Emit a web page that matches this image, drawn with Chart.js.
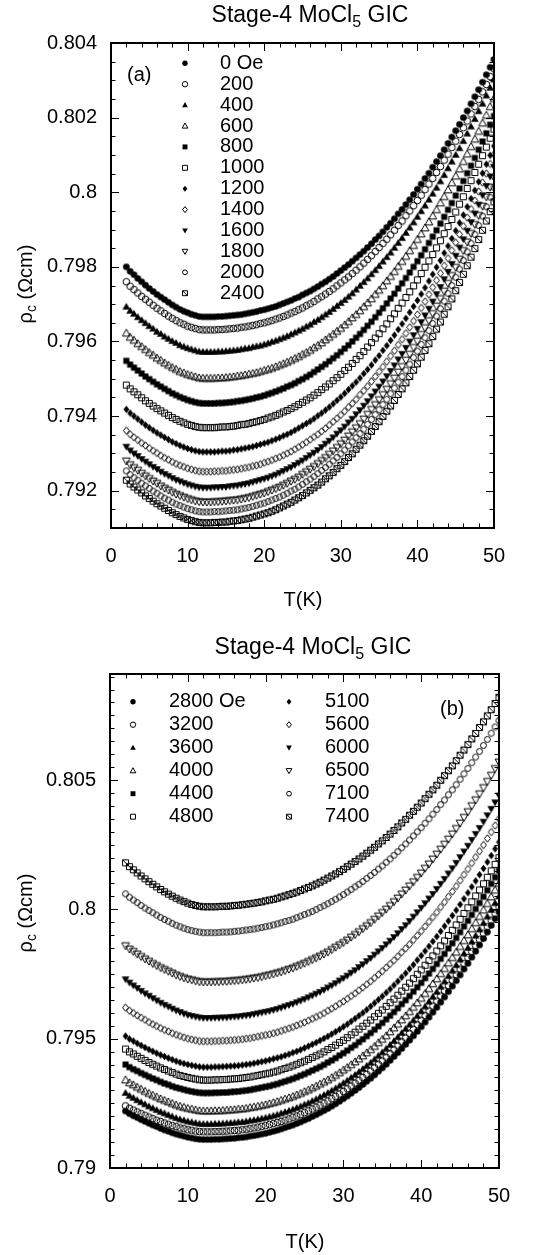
<!DOCTYPE html>
<html><head><meta charset="utf-8">
<script src="https://cdn.jsdelivr.net/npm/chart.js@4.4.1/dist/chart.umd.min.js"></script>
<style>
html,body{margin:0;padding:0;background:#fff;}
#wrap{position:relative;width:541px;height:1255px;overflow:hidden;}
canvas{position:absolute;left:0;}
#ca{top:0;} #cb{top:625px;}
</style></head><body>
<div id="wrap"><canvas id="ca" width="541" height="625"></canvas><canvas id="cb" width="541" height="630"></canvas></div>
<script>
// ---------- data ----------
const temps = [2,2.5,3,3.5,4,4.5,5,5.5,6,6.5,7,7.5,8,8.5,9,9.5,10,10.5,11,11.5,12,12.5,13,13.5,14,14.5,15,15.5,16,16.5,17,17.5,18,18.5,19,19.5,20,20.5,21,21.5,22,22.5,23,23.5,24,24.5,25,25.5,26,26.5,27,27.5,28,28.5,29,29.5,30,30.5,31,31.5,32,32.5,33,33.5,34,34.5,35,35.5,36,36.5,37,37.5,38,38.5,39,39.5,40,40.5,41,41.5,42,42.5,43,43.5,44,44.5,45,45.5,46,46.5,47,47.5,48,48.5,49,49.5,50];

const xTicks = [0,10,20,30,40,50];
const yTicksA = [0.792,0.794,0.796,0.798,0.800,0.802,0.804];
const yTicksB = [0.790,0.795,0.800,0.805];

const legendA = ['0 Oe','200','400','600','800','1000','1200','1400','1600','1800','2000','2400'];
const legendB = ['2800 Oe','3200','3600','4000','4400','4800','5100','5600','6000','6500','7100','7400'];

// panel (a): rho_c (Ohm cm) vs T, H = 0 ... 2400 Oe
const rhoA0 = [0.79800,0.79788,0.79779,0.79769,0.79760,0.79751,0.79742,0.79734,0.79726,0.79719,0.79712,0.79705,0.79698,0.79692,0.79686,0.79681,0.79677,0.79673,0.79670,0.79667,0.79666,
0.79666,0.79666,0.79666,0.79667,0.79667,0.79668,0.79669,0.79670,0.79671,0.79672,0.79674,0.79676,0.79678,0.79680,0.79683,0.79685,0.79688,0.79691,0.79694,0.79698,0.79702,0.79706,0.79710,0.79715,0.79719,0.79725,0.79730,0.79735,0.79741,0.79747,0.79754,0.79760,0.79767,0.79774,0.79782,0.79790,0.79798,0.79806,0.79815,0.79824,0.79833,0.79842,0.79852,0.79862,0.79873,0.79883,0.79894,0.79906,0.79917,0.79929,0.79942,0.79954,0.79967,0.79980,0.79994,0.80008,0.80022,0.80037,0.80051,0.80067,0.80082,0.80098,0.80114,0.80131,0.80148,0.80165,0.80182,0.80200,0.80218,0.80237,0.80256,0.80275,0.80295,0.80315,0.80335,0.80356];
const rhoA200 = [0.79760,0.79748,0.79739,0.79730,0.79721,0.79713,0.79705,0.79697,0.79689,0.79682,0.79675,0.79668,0.79662,0.79656,0.79650,0.79646,0.79641,0.79638,0.79635,0.79632,0.79631,
0.79631,0.79631,0.79631,0.79632,0.79632,0.79633,0.79634,0.79635,0.79636,0.79638,0.79639,0.79641,0.79643,0.79645,0.79648,0.79650,0.79653,0.79656,0.79660,0.79663,0.79667,0.79671,0.79676,0.79680,0.79685,0.79690,0.79696,0.79701,0.79707,0.79714,0.79720,0.79727,0.79734,0.79741,0.79749,0.79757,0.79765,0.79773,0.79782,0.79791,0.79800,0.79810,0.79820,0.79830,0.79841,0.79852,0.79863,0.79874,0.79886,0.79898,0.79911,0.79923,0.79937,0.79950,0.79964,0.79978,0.79992,0.80007,0.80022,0.80037,0.80053,0.80069,0.80086,0.80102,0.80120,0.80137,0.80155,0.80173,0.80191,0.80210,0.80230,0.80249,0.80269,0.80289,0.80310,0.80331];
const rhoA400 = [0.79693,0.79682,0.79674,0.79665,0.79657,0.79649,0.79641,0.79634,0.79626,0.79620,0.79613,0.79607,0.79601,0.79596,0.79590,0.79586,0.79582,0.79579,0.79576,0.79573,0.79572,
0.79572,0.79572,0.79572,0.79573,0.79573,0.79574,0.79575,0.79576,0.79577,0.79579,0.79581,0.79582,0.79585,0.79587,0.79589,0.79592,0.79595,0.79599,0.79602,0.79606,0.79610,0.79614,0.79619,0.79624,0.79629,0.79634,0.79640,0.79645,0.79652,0.79658,0.79665,0.79672,0.79679,0.79687,0.79695,0.79703,0.79711,0.79720,0.79729,0.79739,0.79749,0.79759,0.79769,0.79780,0.79791,0.79802,0.79814,0.79826,0.79838,0.79851,0.79864,0.79877,0.79891,0.79905,0.79919,0.79934,0.79949,0.79964,0.79980,0.79996,0.80012,0.80029,0.80046,0.80064,0.80082,0.80100,0.80118,0.80137,0.80157,0.80176,0.80196,0.80217,0.80237,0.80259,0.80280,0.80302];
const rhoA600 = [0.79622,0.79611,0.79603,0.79594,0.79586,0.79578,0.79570,0.79563,0.79555,0.79549,0.79542,0.79536,0.79530,0.79525,0.79519,0.79515,0.79511,0.79508,0.79505,0.79502,0.79501,
0.79501,0.79501,0.79501,0.79502,0.79502,0.79503,0.79504,0.79505,0.79507,0.79508,0.79510,0.79512,0.79514,0.79516,0.79519,0.79522,0.79525,0.79528,0.79532,0.79536,0.79540,0.79544,0.79549,0.79554,0.79559,0.79565,0.79570,0.79576,0.79583,0.79589,0.79596,0.79604,0.79611,0.79619,0.79627,0.79635,0.79644,0.79653,0.79663,0.79672,0.79682,0.79693,0.79703,0.79714,0.79726,0.79737,0.79749,0.79762,0.79774,0.79787,0.79801,0.79814,0.79828,0.79843,0.79857,0.79873,0.79888,0.79904,0.79920,0.79936,0.79953,0.79971,0.79988,0.80006,0.80025,0.80043,0.80062,0.80082,0.80102,0.80122,0.80142,0.80163,0.80185,0.80206,0.80229,0.80251];
const rhoA800 = [0.79548,0.79538,0.79530,0.79522,0.79514,0.79506,0.79499,0.79492,0.79485,0.79479,0.79473,0.79467,0.79461,0.79456,0.79451,0.79447,0.79443,0.79440,0.79437,0.79435,0.79434,
0.79434,0.79434,0.79434,0.79435,0.79435,0.79436,0.79437,0.79438,0.79440,0.79441,0.79443,0.79445,0.79447,0.79450,0.79452,0.79455,0.79459,0.79462,0.79466,0.79470,0.79474,0.79479,0.79483,0.79488,0.79494,0.79499,0.79505,0.79511,0.79518,0.79525,0.79532,0.79539,0.79547,0.79555,0.79563,0.79572,0.79581,0.79590,0.79600,0.79610,0.79620,0.79631,0.79642,0.79653,0.79665,0.79677,0.79689,0.79702,0.79715,0.79728,0.79742,0.79756,0.79770,0.79785,0.79800,0.79815,0.79831,0.79847,0.79864,0.79881,0.79898,0.79916,0.79934,0.79953,0.79971,0.79991,0.80010,0.80030,0.80051,0.80071,0.80092,0.80114,0.80136,0.80158,0.80181,0.80204];
const rhoA1000 = [0.79483,0.79473,0.79465,0.79457,0.79449,0.79441,0.79434,0.79427,0.79420,0.79414,0.79408,0.79402,0.79396,0.79391,0.79386,0.79382,0.79378,0.79375,0.79372,0.79370,0.79369,
0.79369,0.79369,0.79369,0.79370,0.79371,0.79371,0.79372,0.79373,0.79375,0.79377,0.79378,0.79380,0.79383,0.79385,0.79388,0.79391,0.79395,0.79398,0.79402,0.79406,0.79411,0.79415,0.79420,0.79425,0.79431,0.79437,0.79443,0.79449,0.79456,0.79463,0.79471,0.79478,0.79486,0.79495,0.79503,0.79512,0.79522,0.79531,0.79541,0.79552,0.79562,0.79573,0.79585,0.79597,0.79609,0.79621,0.79634,0.79647,0.79661,0.79674,0.79689,0.79703,0.79718,0.79733,0.79749,0.79765,0.79782,0.79799,0.79816,0.79833,0.79851,0.79870,0.79889,0.79908,0.79927,0.79947,0.79968,0.79988,0.80010,0.80031,0.80053,0.80075,0.80098,0.80121,0.80145,0.80169];
const rhoA1200 = [0.79418,0.79408,0.79400,0.79392,0.79384,0.79376,0.79369,0.79362,0.79355,0.79349,0.79343,0.79337,0.79331,0.79326,0.79321,0.79317,0.79313,0.79310,0.79307,0.79305,0.79304,
0.79304,0.79304,0.79304,0.79305,0.79306,0.79306,0.79307,0.79309,0.79310,0.79312,0.79314,0.79316,0.79318,0.79321,0.79324,0.79327,0.79330,0.79334,0.79338,0.79342,0.79347,0.79351,0.79356,0.79362,0.79368,0.79374,0.79380,0.79386,0.79393,0.79401,0.79408,0.79416,0.79424,0.79433,0.79442,0.79451,0.79461,0.79471,0.79481,0.79491,0.79502,0.79514,0.79525,0.79537,0.79550,0.79562,0.79576,0.79589,0.79603,0.79617,0.79632,0.79647,0.79662,0.79678,0.79694,0.79710,0.79727,0.79744,0.79762,0.79780,0.79799,0.79817,0.79837,0.79856,0.79876,0.79897,0.79918,0.79939,0.79961,0.79983,0.80005,0.80028,0.80051,0.80075,0.80099,0.80124];
const rhoA1400 = [0.79361,0.79351,0.79343,0.79336,0.79328,0.79321,0.79314,0.79307,0.79301,0.79294,0.79288,0.79283,0.79277,0.79272,0.79268,0.79264,0.79260,0.79257,0.79254,0.79252,0.79251,
0.79251,0.79251,0.79252,0.79252,0.79253,0.79253,0.79255,0.79256,0.79257,0.79259,0.79261,0.79263,0.79266,0.79268,0.79271,0.79275,0.79278,0.79282,0.79286,0.79290,0.79295,0.79300,0.79305,0.79311,0.79317,0.79323,0.79330,0.79337,0.79344,0.79351,0.79359,0.79367,0.79376,0.79385,0.79394,0.79403,0.79413,0.79424,0.79434,0.79445,0.79457,0.79468,0.79480,0.79493,0.79506,0.79519,0.79532,0.79546,0.79561,0.79575,0.79591,0.79606,0.79622,0.79638,0.79655,0.79672,0.79690,0.79707,0.79726,0.79745,0.79764,0.79783,0.79803,0.79823,0.79844,0.79865,0.79887,0.79909,0.79932,0.79955,0.79978,0.80002,0.80026,0.80050,0.80076,0.80101];
const rhoA1600 = [0.79318,0.79308,0.79300,0.79293,0.79285,0.79278,0.79271,0.79264,0.79258,0.79251,0.79245,0.79240,0.79234,0.79229,0.79225,0.79221,0.79217,0.79214,0.79211,0.79209,0.79208,
0.79208,0.79208,0.79209,0.79209,0.79210,0.79210,0.79212,0.79213,0.79214,0.79216,0.79218,0.79220,0.79223,0.79226,0.79229,0.79232,0.79235,0.79239,0.79243,0.79248,0.79253,0.79258,0.79263,0.79269,0.79275,0.79281,0.79288,0.79295,0.79302,0.79309,0.79317,0.79326,0.79334,0.79343,0.79353,0.79362,0.79372,0.79383,0.79393,0.79405,0.79416,0.79428,0.79440,0.79453,0.79466,0.79479,0.79493,0.79507,0.79521,0.79536,0.79552,0.79567,0.79583,0.79600,0.79617,0.79634,0.79652,0.79670,0.79688,0.79707,0.79727,0.79746,0.79767,0.79787,0.79808,0.79830,0.79852,0.79874,0.79897,0.79920,0.79943,0.79967,0.79992,0.80017,0.80042,0.80068];
const rhoA1800 = [0.79280,0.79270,0.79262,0.79255,0.79247,0.79240,0.79233,0.79226,0.79220,0.79213,0.79207,0.79202,0.79196,0.79191,0.79187,0.79183,0.79179,0.79176,0.79173,0.79171,0.79170,
0.79170,0.79170,0.79171,0.79171,0.79172,0.79173,0.79174,0.79175,0.79176,0.79178,0.79180,0.79182,0.79185,0.79188,0.79191,0.79194,0.79198,0.79202,0.79206,0.79210,0.79215,0.79220,0.79226,0.79231,0.79237,0.79244,0.79251,0.79258,0.79265,0.79273,0.79281,0.79289,0.79298,0.79307,0.79316,0.79326,0.79336,0.79347,0.79358,0.79369,0.79380,0.79392,0.79405,0.79418,0.79431,0.79444,0.79458,0.79472,0.79487,0.79502,0.79518,0.79533,0.79550,0.79566,0.79584,0.79601,0.79619,0.79637,0.79656,0.79675,0.79695,0.79715,0.79735,0.79756,0.79777,0.79799,0.79821,0.79844,0.79867,0.79890,0.79914,0.79938,0.79963,0.79988,0.80014,0.80040];
const rhoA2000 = [0.79253,0.79243,0.79235,0.79228,0.79220,0.79213,0.79206,0.79199,0.79193,0.79186,0.79180,0.79175,0.79169,0.79164,0.79160,0.79156,0.79152,0.79149,0.79146,0.79144,0.79143,
0.79143,0.79143,0.79144,0.79144,0.79145,0.79146,0.79147,0.79148,0.79149,0.79151,0.79153,0.79155,0.79158,0.79161,0.79164,0.79167,0.79171,0.79175,0.79179,0.79183,0.79188,0.79193,0.79199,0.79204,0.79210,0.79217,0.79224,0.79231,0.79238,0.79246,0.79254,0.79262,0.79271,0.79280,0.79289,0.79299,0.79309,0.79320,0.79331,0.79342,0.79353,0.79365,0.79378,0.79391,0.79404,0.79417,0.79431,0.79445,0.79460,0.79475,0.79491,0.79506,0.79523,0.79539,0.79557,0.79574,0.79592,0.79610,0.79629,0.79648,0.79668,0.79688,0.79708,0.79729,0.79750,0.79772,0.79794,0.79817,0.79840,0.79863,0.79887,0.79911,0.79936,0.79961,0.79987,0.80013];
const rhoA2400 = [0.79228,0.79218,0.79210,0.79202,0.79194,0.79186,0.79179,0.79172,0.79165,0.79159,0.79153,0.79147,0.79141,0.79136,0.79131,0.79127,0.79123,0.79120,0.79117,0.79115,0.79114,
0.79114,0.79114,0.79115,0.79115,0.79116,0.79116,0.79118,0.79119,0.79120,0.79122,0.79124,0.79126,0.79129,0.79132,0.79135,0.79138,0.79141,0.79145,0.79149,0.79154,0.79159,0.79164,0.79169,0.79175,0.79181,0.79187,0.79194,0.79201,0.79208,0.79215,0.79223,0.79232,0.79240,0.79249,0.79259,0.79268,0.79278,0.79289,0.79299,0.79311,0.79322,0.79334,0.79346,0.79359,0.79372,0.79385,0.79399,0.79413,0.79427,0.79442,0.79458,0.79473,0.79489,0.79506,0.79523,0.79540,0.79558,0.79576,0.79594,0.79613,0.79633,0.79652,0.79673,0.79693,0.79714,0.79736,0.79758,0.79780,0.79803,0.79826,0.79849,0.79873,0.79898,0.79923,0.79948,0.79974];

// panel (b): H = 2800 ... 7400 Oe
const rhoB2800 = [0.79220,0.79210,0.79202,0.79195,0.79187,0.79180,0.79173,0.79166,0.79160,0.79153,0.79147,0.79142,0.79136,0.79131,0.79127,0.79123,0.79119,0.79116,0.79113,0.79111,0.79110,
0.79110,0.79110,0.79111,0.79111,0.79112,0.79113,0.79114,0.79115,0.79117,0.79118,0.79120,0.79123,0.79125,0.79128,0.79131,0.79134,0.79138,0.79142,0.79146,0.79151,0.79156,0.79161,0.79166,0.79172,0.79178,0.79185,0.79191,0.79199,0.79206,0.79214,0.79222,0.79230,0.79239,0.79248,0.79258,0.79268,0.79278,0.79289,0.79300,0.79311,0.79323,0.79335,0.79347,0.79360,0.79374,0.79387,0.79401,0.79416,0.79431,0.79446,0.79462,0.79478,0.79494,0.79511,0.79528,0.79546,0.79564,0.79583,0.79602,0.79621,0.79641,0.79661,0.79682,0.79703,0.79724,0.79746,0.79769,0.79791,0.79815,0.79838,0.79862,0.79887,0.79912,0.79938,0.79964,0.79990];
const rhoB3200 = [0.79240,0.79231,0.79224,0.79217,0.79210,0.79204,0.79197,0.79191,0.79185,0.79180,0.79174,0.79169,0.79164,0.79160,0.79155,0.79152,0.79148,0.79146,0.79143,0.79141,0.79140,
0.79140,0.79140,0.79141,0.79141,0.79142,0.79143,0.79144,0.79145,0.79146,0.79148,0.79150,0.79152,0.79155,0.79158,0.79161,0.79164,0.79168,0.79172,0.79176,0.79180,0.79185,0.79190,0.79196,0.79201,0.79207,0.79214,0.79221,0.79228,0.79235,0.79243,0.79251,0.79259,0.79268,0.79277,0.79286,0.79296,0.79306,0.79317,0.79328,0.79339,0.79350,0.79362,0.79375,0.79388,0.79401,0.79414,0.79428,0.79442,0.79457,0.79472,0.79488,0.79503,0.79520,0.79536,0.79554,0.79571,0.79589,0.79607,0.79626,0.79645,0.79665,0.79685,0.79705,0.79726,0.79747,0.79769,0.79791,0.79814,0.79837,0.79860,0.79884,0.79908,0.79933,0.79958,0.79984,0.80010];
const rhoB3600 = [0.79290,0.79279,0.79271,0.79262,0.79254,0.79246,0.79238,0.79231,0.79224,0.79217,0.79211,0.79205,0.79199,0.79193,0.79188,0.79184,0.79180,0.79177,0.79174,0.79171,0.79170,
0.79170,0.79170,0.79171,0.79171,0.79172,0.79173,0.79174,0.79175,0.79177,0.79178,0.79180,0.79183,0.79185,0.79188,0.79191,0.79194,0.79198,0.79202,0.79206,0.79211,0.79216,0.79221,0.79226,0.79232,0.79238,0.79245,0.79251,0.79259,0.79266,0.79274,0.79282,0.79290,0.79299,0.79308,0.79318,0.79328,0.79338,0.79349,0.79360,0.79371,0.79383,0.79395,0.79407,0.79420,0.79434,0.79447,0.79461,0.79476,0.79491,0.79506,0.79522,0.79538,0.79554,0.79571,0.79588,0.79606,0.79624,0.79643,0.79662,0.79681,0.79701,0.79721,0.79742,0.79763,0.79784,0.79806,0.79829,0.79851,0.79875,0.79898,0.79922,0.79947,0.79972,0.79998,0.80024,0.80050];
const rhoB4000 = [0.79340,0.79329,0.79321,0.79312,0.79304,0.79296,0.79288,0.79281,0.79274,0.79267,0.79261,0.79255,0.79249,0.79243,0.79238,0.79234,0.79230,0.79227,0.79224,0.79221,0.79220,
0.79220,0.79220,0.79221,0.79221,0.79222,0.79223,0.79224,0.79225,0.79227,0.79228,0.79230,0.79233,0.79235,0.79238,0.79241,0.79244,0.79248,0.79252,0.79256,0.79261,0.79266,0.79271,0.79276,0.79282,0.79288,0.79295,0.79301,0.79309,0.79316,0.79324,0.79332,0.79340,0.79349,0.79358,0.79368,0.79378,0.79388,0.79399,0.79410,0.79421,0.79433,0.79445,0.79457,0.79470,0.79484,0.79497,0.79511,0.79526,0.79541,0.79556,0.79572,0.79588,0.79604,0.79621,0.79638,0.79656,0.79674,0.79693,0.79712,0.79731,0.79751,0.79771,0.79792,0.79813,0.79834,0.79856,0.79879,0.79901,0.79925,0.79948,0.79972,0.79997,0.80022,0.80048,0.80074,0.80100];
const rhoB4400 = [0.79400,0.79390,0.79382,0.79375,0.79367,0.79360,0.79353,0.79346,0.79340,0.79333,0.79327,0.79322,0.79316,0.79311,0.79307,0.79303,0.79299,0.79296,0.79293,0.79291,0.79290,
0.79290,0.79290,0.79291,0.79291,0.79292,0.79292,0.79294,0.79295,0.79296,0.79298,0.79300,0.79302,0.79305,0.79308,0.79311,0.79314,0.79317,0.79321,0.79325,0.79330,0.79335,0.79340,0.79345,0.79351,0.79357,0.79363,0.79370,0.79377,0.79384,0.79391,0.79399,0.79408,0.79416,0.79425,0.79435,0.79444,0.79454,0.79465,0.79475,0.79487,0.79498,0.79510,0.79522,0.79535,0.79548,0.79561,0.79575,0.79589,0.79603,0.79618,0.79634,0.79649,0.79665,0.79682,0.79699,0.79716,0.79734,0.79752,0.79770,0.79789,0.79809,0.79828,0.79849,0.79869,0.79890,0.79912,0.79934,0.79956,0.79979,0.80002,0.80025,0.80049,0.80074,0.80099,0.80124,0.80150];
const rhoB4800 = [0.79460,0.79449,0.79441,0.79432,0.79424,0.79416,0.79408,0.79401,0.79394,0.79387,0.79381,0.79375,0.79369,0.79363,0.79358,0.79354,0.79350,0.79347,0.79344,0.79341,0.79340,
0.79340,0.79340,0.79341,0.79341,0.79342,0.79342,0.79344,0.79345,0.79346,0.79348,0.79350,0.79352,0.79355,0.79358,0.79361,0.79364,0.79367,0.79371,0.79375,0.79380,0.79385,0.79390,0.79395,0.79401,0.79407,0.79413,0.79420,0.79427,0.79434,0.79441,0.79449,0.79458,0.79466,0.79475,0.79485,0.79494,0.79504,0.79515,0.79525,0.79537,0.79548,0.79560,0.79572,0.79585,0.79598,0.79611,0.79625,0.79639,0.79653,0.79668,0.79684,0.79699,0.79715,0.79732,0.79749,0.79766,0.79784,0.79802,0.79820,0.79839,0.79859,0.79878,0.79899,0.79919,0.79940,0.79962,0.79984,0.80006,0.80029,0.80052,0.80075,0.80099,0.80124,0.80149,0.80174,0.80200];
const rhoB5100 = [0.79510,0.79499,0.79491,0.79482,0.79474,0.79466,0.79458,0.79451,0.79444,0.79437,0.79431,0.79425,0.79419,0.79413,0.79408,0.79404,0.79400,0.79397,0.79394,0.79391,0.79390,
0.79390,0.79390,0.79391,0.79391,0.79392,0.79393,0.79394,0.79395,0.79396,0.79398,0.79400,0.79402,0.79405,0.79408,0.79411,0.79414,0.79418,0.79422,0.79426,0.79430,0.79435,0.79440,0.79446,0.79451,0.79457,0.79464,0.79471,0.79478,0.79485,0.79493,0.79501,0.79509,0.79518,0.79527,0.79536,0.79546,0.79556,0.79567,0.79578,0.79589,0.79600,0.79612,0.79625,0.79638,0.79651,0.79664,0.79678,0.79692,0.79707,0.79722,0.79738,0.79753,0.79770,0.79786,0.79804,0.79821,0.79839,0.79857,0.79876,0.79895,0.79915,0.79935,0.79955,0.79976,0.79997,0.80019,0.80041,0.80064,0.80087,0.80110,0.80134,0.80158,0.80183,0.80208,0.80234,0.80260];
const rhoB5600 = [0.79620,0.79608,0.79599,0.79590,0.79581,0.79573,0.79564,0.79556,0.79549,0.79541,0.79534,0.79528,0.79521,0.79515,0.79510,0.79505,0.79500,0.79497,0.79494,0.79491,0.79490,
0.79490,0.79490,0.79491,0.79491,0.79492,0.79492,0.79494,0.79495,0.79496,0.79498,0.79500,0.79502,0.79505,0.79508,0.79511,0.79514,0.79517,0.79521,0.79525,0.79530,0.79535,0.79540,0.79545,0.79551,0.79557,0.79563,0.79570,0.79577,0.79584,0.79591,0.79599,0.79608,0.79616,0.79625,0.79635,0.79644,0.79654,0.79665,0.79675,0.79687,0.79698,0.79710,0.79722,0.79735,0.79748,0.79761,0.79775,0.79789,0.79803,0.79818,0.79834,0.79849,0.79865,0.79882,0.79899,0.79916,0.79934,0.79952,0.79970,0.79989,0.80009,0.80028,0.80049,0.80069,0.80090,0.80112,0.80134,0.80156,0.80179,0.80202,0.80225,0.80249,0.80274,0.80299,0.80324,0.80350];
const rhoB6000 = [0.79730,0.79717,0.79706,0.79696,0.79685,0.79675,0.79666,0.79657,0.79648,0.79639,0.79631,0.79624,0.79616,0.79609,0.79603,0.79597,0.79592,0.79588,0.79585,0.79582,0.79580,
0.79580,0.79580,0.79581,0.79581,0.79582,0.79582,0.79584,0.79585,0.79586,0.79588,0.79590,0.79592,0.79595,0.79598,0.79601,0.79604,0.79607,0.79611,0.79615,0.79620,0.79625,0.79630,0.79635,0.79641,0.79647,0.79653,0.79660,0.79667,0.79674,0.79681,0.79689,0.79698,0.79706,0.79715,0.79725,0.79734,0.79744,0.79755,0.79765,0.79777,0.79788,0.79800,0.79812,0.79825,0.79838,0.79851,0.79865,0.79879,0.79893,0.79908,0.79924,0.79939,0.79955,0.79972,0.79989,0.80006,0.80024,0.80042,0.80060,0.80079,0.80099,0.80118,0.80139,0.80159,0.80180,0.80202,0.80224,0.80246,0.80269,0.80292,0.80315,0.80339,0.80364,0.80389,0.80414,0.80440];
const rhoB6500 = [0.79860,0.79847,0.79838,0.79828,0.79818,0.79809,0.79800,0.79791,0.79783,0.79775,0.79768,0.79761,0.79754,0.79747,0.79741,0.79736,0.79731,0.79728,0.79724,0.79721,0.79720,
0.79720,0.79720,0.79721,0.79721,0.79722,0.79722,0.79724,0.79725,0.79726,0.79728,0.79730,0.79732,0.79735,0.79737,0.79740,0.79744,0.79747,0.79751,0.79755,0.79759,0.79764,0.79769,0.79774,0.79780,0.79786,0.79792,0.79799,0.79806,0.79813,0.79820,0.79828,0.79836,0.79845,0.79854,0.79863,0.79872,0.79882,0.79893,0.79903,0.79914,0.79926,0.79937,0.79949,0.79962,0.79975,0.79988,0.80001,0.80015,0.80030,0.80044,0.80060,0.80075,0.80091,0.80107,0.80124,0.80141,0.80159,0.80176,0.80195,0.80214,0.80233,0.80252,0.80272,0.80292,0.80313,0.80334,0.80356,0.80378,0.80401,0.80424,0.80447,0.80471,0.80495,0.80519,0.80545,0.80570];
const rhoB7100 = [0.80060,0.80047,0.80036,0.80026,0.80015,0.80005,0.79996,0.79987,0.79978,0.79969,0.79961,0.79954,0.79946,0.79939,0.79933,0.79927,0.79922,0.79918,0.79915,0.79912,0.79910,
0.79910,0.79910,0.79910,0.79911,0.79912,0.79912,0.79913,0.79915,0.79916,0.79918,0.79920,0.79922,0.79924,0.79927,0.79930,0.79933,0.79936,0.79940,0.79944,0.79948,0.79953,0.79957,0.79962,0.79968,0.79974,0.79980,0.79986,0.79992,0.79999,0.80007,0.80014,0.80022,0.80030,0.80039,0.80048,0.80057,0.80067,0.80077,0.80087,0.80097,0.80108,0.80120,0.80131,0.80143,0.80156,0.80168,0.80182,0.80195,0.80209,0.80223,0.80238,0.80253,0.80268,0.80284,0.80300,0.80316,0.80333,0.80350,0.80368,0.80386,0.80405,0.80423,0.80443,0.80462,0.80482,0.80503,0.80524,0.80545,0.80567,0.80589,0.80611,0.80634,0.80657,0.80681,0.80705,0.80730];
const rhoB7400 = [0.80180,0.80165,0.80153,0.80141,0.80129,0.80118,0.80107,0.80097,0.80087,0.80077,0.80068,0.80059,0.80051,0.80043,0.80036,0.80030,0.80024,0.80019,0.80015,0.80012,0.80010,
0.80010,0.80010,0.80010,0.80011,0.80012,0.80012,0.80013,0.80015,0.80016,0.80018,0.80020,0.80022,0.80024,0.80027,0.80029,0.80033,0.80036,0.80039,0.80043,0.80048,0.80052,0.80057,0.80062,0.80067,0.80073,0.80079,0.80085,0.80091,0.80098,0.80105,0.80113,0.80121,0.80129,0.80137,0.80146,0.80155,0.80165,0.80175,0.80185,0.80195,0.80206,0.80217,0.80229,0.80240,0.80253,0.80265,0.80278,0.80291,0.80305,0.80319,0.80334,0.80348,0.80364,0.80379,0.80395,0.80411,0.80428,0.80445,0.80462,0.80480,0.80499,0.80517,0.80536,0.80555,0.80575,0.80596,0.80616,0.80637,0.80659,0.80680,0.80703,0.80725,0.80748,0.80772,0.80796,0.80820];

// ---------- styling ----------
const FONT = "'Liberation Sans', Arial, Helvetica, sans-serif";
const markerKinds = [['circle',true],['circle',false],['triUp',true],['triUp',false],['square',true],['square',false],['diamond',true],['diamond',false],['triDn',true],['triDn',false],['circleSmall',false],['boxDiag',false]];

function drawMarker(ctx, kind, x, y, r){
  const shape = kind[0], filled = kind[1];
  ctx.save();
  ctx.fillStyle = '#000'; ctx.strokeStyle = '#000'; ctx.lineWidth = 1;
  ctx.beginPath();
  if (shape === 'circle') ctx.arc(x, y, r*0.9, 0, 2*Math.PI);
  else if (shape === 'circleSmall') ctx.arc(x, y, r*0.8, 0, 2*Math.PI);
  else if (shape === 'triUp') { ctx.moveTo(x, y-r); ctx.lineTo(x+r*0.95, y+r*0.7); ctx.lineTo(x-r*0.95, y+r*0.7); ctx.closePath(); }
  else if (shape === 'triDn') { ctx.moveTo(x, y+r); ctx.lineTo(x+r*0.95, y-r*0.7); ctx.lineTo(x-r*0.95, y-r*0.7); ctx.closePath(); }
  else if (shape === 'square' || shape === 'boxDiag') { const h = r*0.82; ctx.rect(x-h, y-h, 2*h, 2*h); }
  else if (shape === 'diamond') { ctx.moveTo(x, y-r); ctx.lineTo(x+r*0.8, y); ctx.lineTo(x, y+r); ctx.lineTo(x-r*0.8, y); ctx.closePath(); }
  if (filled) ctx.fill(); else ctx.stroke();
  if (shape === 'boxDiag') { const h = r*0.82; ctx.beginPath(); ctx.moveTo(x-h, y-h); ctx.lineTo(x+h, y+h); ctx.stroke(); }
  ctx.restore();
}
function makeSprite(kind, r){
  const s = Math.ceil(2*r + 3);
  const c = document.createElement('canvas');
  c.width = s; c.height = s;
  drawMarker(c.getContext('2d'), kind, s/2, s/2, r);
  return c;
}
function drawParts(ctx, parts, x, y){
  parts.forEach(p => { ctx.font = p[1] + 'px ' + FONT; ctx.fillText(p[0], x, y + p[2]); x += ctx.measureText(p[0]).width; });
}
function partsWidth(ctx, parts){
  let w = 0; parts.forEach(p => { ctx.font = p[1] + 'px ' + FONT; w += ctx.measureText(p[0]).width; }); return w;
}

const titleParts = [['Stage-4 MoCl',23,0],['5',16,5],[' GIC',23,0]];
const yLabelParts = [['\u03C1',20,0],['c',14,4],[' (\u03A9cm)',20,0]];

const decor = {
  id: 'decor',
  afterDraw(chart){
    const P = chart.options.plugins.decor;
    const ctx = chart.ctx;
    const ca = chart.chartArea;
    const xs = chart.scales.x, ys = chart.scales.y;
    ctx.save();
    ctx.strokeStyle = '#000'; ctx.fillStyle = '#000';
    ctx.lineWidth = 1;
    ctx.beginPath();
    for (let k = 1; k * P.xMinor < xs.max - 1e-9; k++){
      const v = k * P.xMinor;
      const major = Math.abs(v / P.xMajor - Math.round(v / P.xMajor)) < 1e-6;
      const len = major ? 8 : 4.5;
      const px = Math.round(xs.getPixelForValue(v)) + 0.5;
      ctx.moveTo(px, ca.bottom); ctx.lineTo(px, ca.bottom - len);
      ctx.moveTo(px, ca.top); ctx.lineTo(px, ca.top + len);
    }
    const k0 = Math.ceil(ys.min / P.yMinor - 1e-6), k1 = Math.floor(ys.max / P.yMinor + 1e-6);
    for (let k = k0; k <= k1; k++){
      const v = k * P.yMinor;
      if (Math.abs(v - ys.min) < 1e-7 || Math.abs(v - ys.max) < 1e-7) continue;
      const major = Math.abs(v / P.yMajor - Math.round(v / P.yMajor)) < 1e-4;
      const len = major ? 8 : 4.5;
      const py = Math.round(ys.getPixelForValue(v)) + 0.5;
      ctx.moveTo(ca.left, py); ctx.lineTo(ca.left + len, py);
      ctx.moveTo(ca.right, py); ctx.lineTo(ca.right - len, py);
    }
    ctx.stroke();
    ctx.lineWidth = 2;
    ctx.strokeRect(ca.left, ca.top, ca.right - ca.left, ca.bottom - ca.top);
    ctx.textAlign = 'left'; ctx.textBaseline = 'alphabetic';
    const tw = partsWidth(ctx, titleParts);
    drawParts(ctx, titleParts, P.title.cx - tw/2, P.title.base);
    ctx.save();
    ctx.translate(P.ylab.cx, P.ylab.cy);
    ctx.rotate(-Math.PI/2);
    const yw = partsWidth(ctx, yLabelParts);
    drawParts(ctx, yLabelParts, -yw/2, 7);
    ctx.restore();
    ctx.font = '20px ' + FONT; ctx.textAlign = 'center'; ctx.textBaseline = 'middle';
    ctx.fillText('T(K)', P.xlab.cx, P.xlab.cy);
    ctx.textAlign = 'left';
    ctx.fillText(P.tag.text, P.tag.x, P.tag.y);
    P.legend.cols.forEach(col => {
      col.items.forEach((idx, row) => {
        const y = P.legend.y0 + row * P.legend.dy;
        drawMarker(ctx, markerKinds[idx], col.mx, y, 3);
        ctx.font = '20px ' + FONT; ctx.textAlign = 'left'; ctx.textBaseline = 'middle';
        ctx.fillText(P.labels[idx], col.tx, y);
      });
    });
    ctx.restore();
  }
};

function buildChart(id, series, labels, yMin, yMax, yTicks, cfg){
  const sprites = markerKinds.map(k => makeSprite(k, k[0] === 'triUp' || k[0] === 'triDn' ? 4.1 : 3.7));
  const datasets = series.map((vals, i) => ({
    label: labels[i],
    data: temps.map((t, j) => ({ x: t, y: vals[j] })),
    pointStyle: sprites[i],
    pointRadius: 3.7,
    pointHoverRadius: 3.7,
    showLine: false,
    borderColor: '#000',
    backgroundColor: '#000'
  }));
  return new Chart(document.getElementById(id), {
    type: 'scatter',
    data: { datasets },
    options: {
      responsive: false,
      animation: false,
      devicePixelRatio: 1,
      events: [],
      layout: { padding: { left: 0, right: cfg.padRight, top: cfg.padTop, bottom: 0 } },
      plugins: {
        legend: { display: false },
        title: { display: false },
        tooltip: { enabled: false },
        decor: Object.assign({ labels }, cfg)
      },
      scales: {
        x: {
          type: 'linear', min: 0, max: 50,
          grid: { display: false, drawTicks: false },
          border: { display: false },
          afterBuildTicks: s => { s.ticks = xTicks.map(v => ({ value: v })); },
          afterFit: s => { s.height = cfg.axisH; },
          ticks: { color: '#000', font: { family: FONT, size: 20 }, padding: cfg.xPad, maxRotation: 0, callback: v => String(v) }
        },
        y: {
          type: 'linear', min: yMin, max: yMax,
          grid: { display: false, drawTicks: false },
          border: { display: false },
          afterBuildTicks: s => { s.ticks = yTicks.map(v => ({ value: v })); },
          afterFit: s => { s.width = cfg.axisW; },
          ticks: { color: '#000', font: { family: FONT, size: 20 }, padding: 14, callback: v => String(+v.toFixed(4)) }
        }
      }
    },
    plugins: [decor]
  });
}

buildChart('ca',
  [rhoA0,rhoA200,rhoA400,rhoA600,rhoA800,rhoA1000,rhoA1200,rhoA1400,rhoA1600,rhoA1800,rhoA2000,rhoA2400],
  legendA, 0.791, 0.804, yTicksA,
  { axisW: 111, axisH: 97, padRight: 47, padTop: 43, xPad: 16,
    xMinor: 2, xMajor: 10, yMinor: 0.0005, yMajor: 0.002,
    title: { cx: 310, base: 22 }, ylab: { cx: 25, cy: 284 }, xlab: { cx: 303, cy: 600 },
    tag: { text: '(a)', x: 127, y: 75 },
    legend: { y0: 63.3, dy: 20.9, cols: [ { mx: 185, tx: 220, items: [0,1,2,3,4,5,6,7,8,9,10,11] } ] } });

buildChart('cb',
  [rhoB2800,rhoB3200,rhoB3600,rhoB4000,rhoB4400,rhoB4800,rhoB5100,rhoB5600,rhoB6000,rhoB6500,rhoB7100,rhoB7400],
  legendB, 0.790, 0.8091, yTicksB,
  { axisW: 110, axisH: 87, padRight: 42, padTop: 49, xPad: 16,
    xMinor: 2, xMajor: 10, yMinor: 0.0005, yMajor: 0.005,
    title: { cx: 313, base: 29 }, ylab: { cx: 25, cy: 288 }, xlab: { cx: 305, cy: 617 },
    tag: { text: '(b)', x: 440, y: 84 },
    legend: { y0: 76.7, dy: 23, cols: [ { mx: 133, tx: 169, items: [0,1,2,3,4,5] }, { mx: 289, tx: 325, items: [6,7,8,9,10,11] } ] } });
</script>
</body></html>
